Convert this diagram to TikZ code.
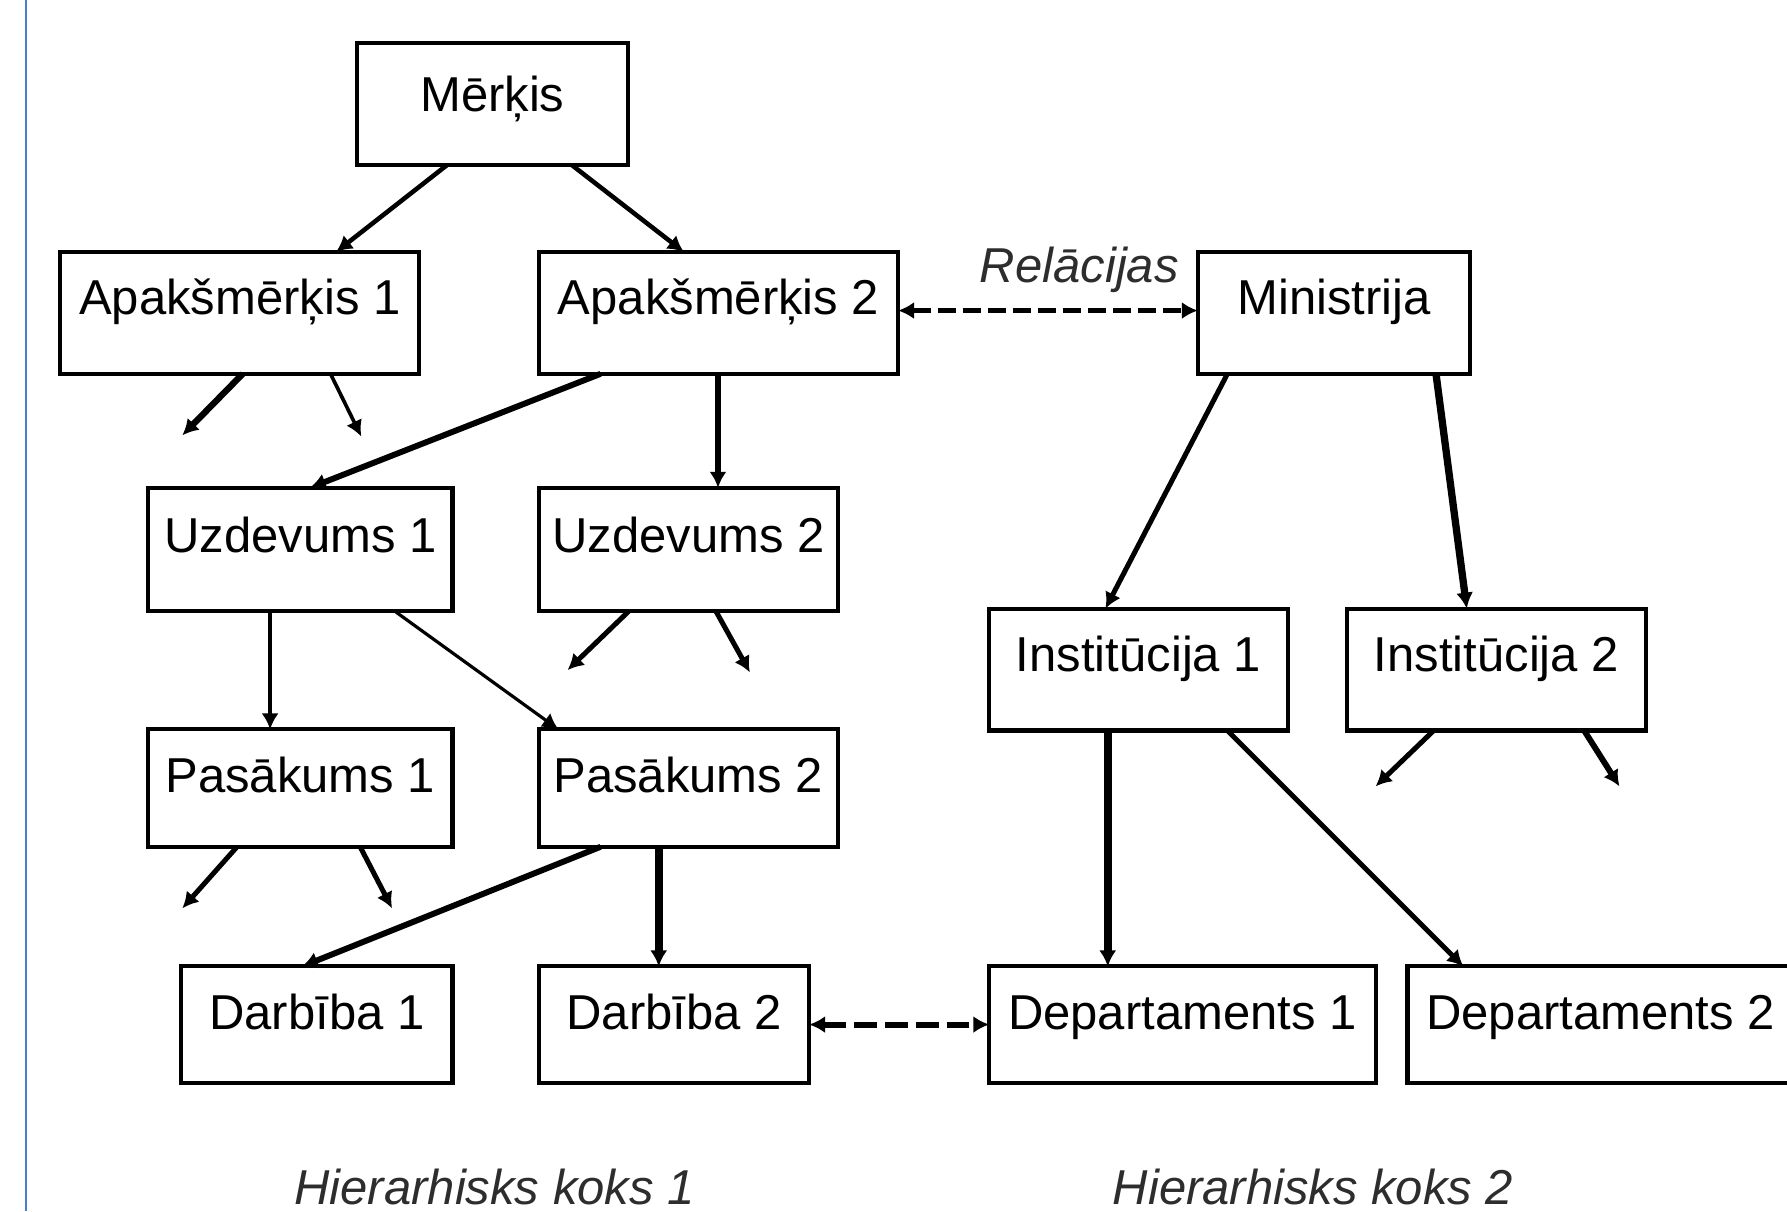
\documentclass[tikz,border=0pt]{standalone}
\usepackage{fontspec}
\setmainfont{Liberation Sans}
\usetikzlibrary{arrows.meta,calc}
\definecolor{edgeblue}{RGB}{74,126,205}
\definecolor{labelgray}{RGB}{45,45,45}
\tikzset{
  box/.style={draw, line width=1.8pt, rectangle, inner sep=0pt, outer sep=0pt,
    anchor=north west, text height=27.5pt, text depth=26pt,
    font=\fontsize{21.5pt}{25pt}\selectfont},
  shortbox/.style={box, text depth=24pt},
  conn/.style={line width=#1, -{Latex[length=7pt,width=7.5pt]}},
  conn/.default=1.8pt,
  rel/.style={line width=#1, {Latex[length=7pt,width=7.5pt]}-{Latex[length=7pt,width=7.5pt]}, dash pattern=on 8pt off 3pt},
  tag/.style={font=\fontsize{21.5pt}{25pt}\selectfont\itshape, text=labelgray, inner sep=0pt, anchor=base}
}
\begin{document}
\begin{tikzpicture}[x=0.5pt,y=-0.5pt]
\useasboundingbox (0,0) rectangle (1568,1063);
\draw[edgeblue, line width=1pt] (23,0) -- (23,1063);

% boxes
\node[box, minimum width=119pt, text height=30pt, text depth=23.5pt] (merkis) at (313,38) {Mērķis};
\node[box, minimum width=157.5pt] (apak1) at (53,221) {Apakšmērķis 1};
\node[box, minimum width=157.5pt] (apak2) at (473,221) {Apakšmērķis 2};
\node[box, minimum width=119.5pt] (min) at (1051,221) {Ministrija};
\node[box, minimum width=133.5pt, text height=28.5pt, text depth=25.5pt] (uzd1) at (130,428) {Uzdevums 1};
\node[box, minimum width=131pt, text height=28.5pt, text depth=25.5pt] (uzd2) at (473,428) {Uzdevums 2};
\node[box, minimum width=131pt] (inst1) at (868,534) {Institūcija 1};
\node[box, minimum width=131pt] (inst2) at (1182,534) {Institūcija 2};
\node[shortbox, minimum width=133.5pt] (pas1) at (130,640) {Pasākums 1};
\node[shortbox, minimum width=131pt] (pas2) at (473,640) {Pasākums 2};
\node[shortbox, minimum width=119pt, text depth=23.5pt] (darb1) at (159,848) {Darbība 1};
\node[shortbox, minimum width=118.5pt, text depth=23.5pt] (darb2) at (473,848) {Darbība 2};
\node[shortbox, minimum width=169.5pt, text depth=23.5pt] (dep1) at (868,848) {Departaments 1};
\node[shortbox, minimum width=169.5pt, text depth=23.5pt] (dep2) at (1235,848) {Departaments 2};

% labels
\node[tag] (relac) at (947,248) {Relācijas};
\node[tag] (koks1) at (434,1057) {Hierarhisks koks 1};
\node[tag] (koks2) at (1152,1057) {Hierarhisks koks 2};

% free ends of the short arrows
\coordinate (a1l) at (160,382);
\coordinate (a1r) at (317,383);
\coordinate (u2l) at (498,588);
\coordinate (u2r) at (658,590);
\coordinate (i2l) at (1207,690);
\coordinate (i2r) at (1421,690);
\coordinate (p1l) at (160,797);
\coordinate (p1r) at (344,797);

% tree 1
\draw[conn=2pt] ($(merkis.south west)+(79,0)$) -- ($(apak1.north west)+(242,0)$);
\draw[conn=2pt] ($(merkis.south west)+(189,0)$) -- ($(apak2.north west)+(127,0)$);
\draw[conn=2.8pt] ($(apak1.south west)+(160,0)$) -- (a1l);
\draw[conn=1.6pt] ($(apak1.south west)+(237,0)$) -- (a1r);
\draw[conn=2.6pt] ($(apak2.south west)+(54,0)$) -- ($(uzd1.north west)+(142,0)$);
\draw[conn=3pt] ($(apak2.south west)+(157,0)$) -- ($(uzd2.north west)+(157,0)$);
\draw[conn=1.7pt] ($(uzd1.south west)+(107,0)$) -- ($(pas1.north west)+(107,0)$);
\draw[conn=1.4pt] ($(uzd1.south west)+(216,0)$) -- ($(pas2.north west)+(17,0)$);
\draw[conn=2.2pt] ($(uzd2.south west)+(79,0)$) -- (u2l);
\draw[conn=2.2pt] ($(uzd2.south west)+(155,0)$) -- (u2r);
\draw[conn=2.2pt] ($(pas1.south west)+(78,0)$) -- (p1l);
\draw[conn=2.2pt] ($(pas1.south west)+(186,0)$) -- (p1r);
\draw[conn=2.6pt] ($(pas2.south west)+(54,0)$) -- ($(darb1.north west)+(106,0)$);
\draw[conn=3.6pt] ($(pas2.south west)+(105,0)$) -- ($(darb2.north west)+(105,0)$);

% tree 2
\draw[conn=2.2pt] ($(min.south west)+(26,0)$) -- ($(inst1.north west)+(102,0)$);
\draw[conn=3.2pt] ($(min.south west)+(209,0)$) -- ($(inst2.north west)+(105,0)$);
\draw[conn=3.4pt] ($(inst1.south west)+(104,0)$) -- ($(dep1.north west)+(104,0)$);
\draw[conn=2.2pt] ($(inst1.south west)+(209,0)$) -- ($(dep2.north west)+(49,0)$);
\draw[conn=2.2pt] ($(inst2.south west)+(76,0)$) -- (i2l);
\draw[conn=2.6pt] ($(inst2.south west)+(208,0)$) -- (i2r);

% relations
\draw[rel=2pt] ($(apak2.east)+(0,-2)$) -- ($(min.west)+(0,-2)$);
\draw[rel=2.6pt, dash pattern=on 10pt off 3.5pt] (darb2.east) -- (dep1.west);
\end{tikzpicture}
\end{document}
